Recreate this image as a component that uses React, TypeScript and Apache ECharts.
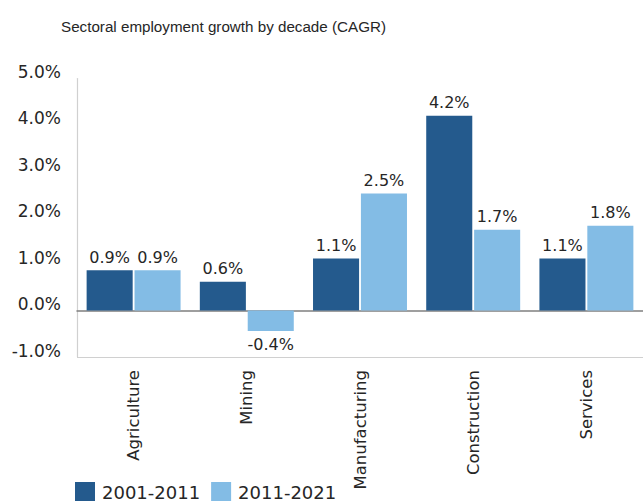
import React, { useEffect, useRef } from "react";
import * as echarts from "echarts";

const categories = ["Agriculture", "Mining", "Manufacturing", "Construction", "Services"];
const series2001 = [0.87, 0.62, 1.12, 4.2, 1.12];
const series2011 = [0.87, -0.44, 2.52, 1.74, 1.83];
const seriesNames = ["2001-2011", "2011-2021"];
const yTicks = { min: -1, max: 5, interval: 1 };

const FONT = "'DejaVu Sans', Verdana, sans-serif";
const TITLE_FONT = "'Liberation Sans', Arial, sans-serif";
const TEXT = "#262626";

export default function App() {
  const ref = useRef<HTMLDivElement>(null);
  useEffect(() => {
    if (!ref.current) return;
    const chart = echarts.init(ref.current, undefined, { renderer: "svg" });
    const mkData = (arr: number[]) =>
      arr.map((v) => ({
        value: v,
        label: { position: v < 0 ? "bottom" : "top" },
      }));
    const labelCfg = {
      show: true,
      distance: 5,
      formatter: (p: any) => p.value.toFixed(1) + "%",
      color: TEXT,
      fontSize: 16,
      fontFamily: FONT,
    };
    chart.setOption({
      animation: false,
      title: {
        text: "Sectoral employment growth by decade (CAGR)",
        left: 61,
        top: 19,
        padding: 0,
        textStyle: { fontSize: 15.2, fontWeight: "normal", color: TEXT, fontFamily: TITLE_FONT },
      },
      legend: {
        data: seriesNames,
        left: 75,
        top: 482,
        padding: 0,
        itemWidth: 20,
        itemHeight: 20,
        itemGap: 11,
        icon: "rect",
        textStyle: { fontSize: 18, color: TEXT, fontFamily: FONT, padding: [0, 0, 0, 2] },
      },
      grid: { left: 77, top: 78.5, bottom: 144, right: -11.5, containLabel: false },
      xAxis: {
        type: "category",
        data: categories,
        axisTick: { show: false },
        axisLine: { onZero: true, lineStyle: { color: "#7f7f7f", width: 1.5 } },
        axisLabel: {
          rotate: 90,
          margin: 13,
          fontSize: 16.5,
          color: TEXT,
          fontFamily: FONT,
        },
        position: "bottom",
      },
      yAxis: {
        type: "value",
        min: yTicks.min,
        max: yTicks.max,
        interval: yTicks.interval,
        axisLine: { show: true, lineStyle: { color: "#d0d0d0", width: 1.2 } },
        axisTick: { show: false },
        splitLine: {
          show: true,
          lineStyle: {
            color: ["#d0d0d0", "transparent", "transparent", "transparent", "transparent", "transparent", "transparent"],
            width: 1.2,
          },
        },
        axisLabel: {
          formatter: (v: number) => v.toFixed(1) + "%",
          fontSize: 17,
          color: TEXT,
          fontFamily: FONT,
          margin: 16,
          verticalAlign: "bottom",
          lineHeight: 13,
        },
      },
      series: [
        {
          name: seriesNames[0],
          type: "bar",
          data: mkData(series2001),
          itemStyle: { color: "#245A8D" },
          barGap: "4%",
          barCategoryGap: "17%",
          label: labelCfg,
        },
        {
          name: seriesNames[1],
          type: "bar",
          data: mkData(series2011),
          itemStyle: { color: "#83BCE5" },
          barGap: "4%",
          barCategoryGap: "17%",
          label: labelCfg,
        },
      ],
    });
    return () => chart.dispose();
  }, []);
  return <div ref={ref} style={{ width: 643, height: 501, position: "absolute", left: 0, top: 0 }} />;
}
